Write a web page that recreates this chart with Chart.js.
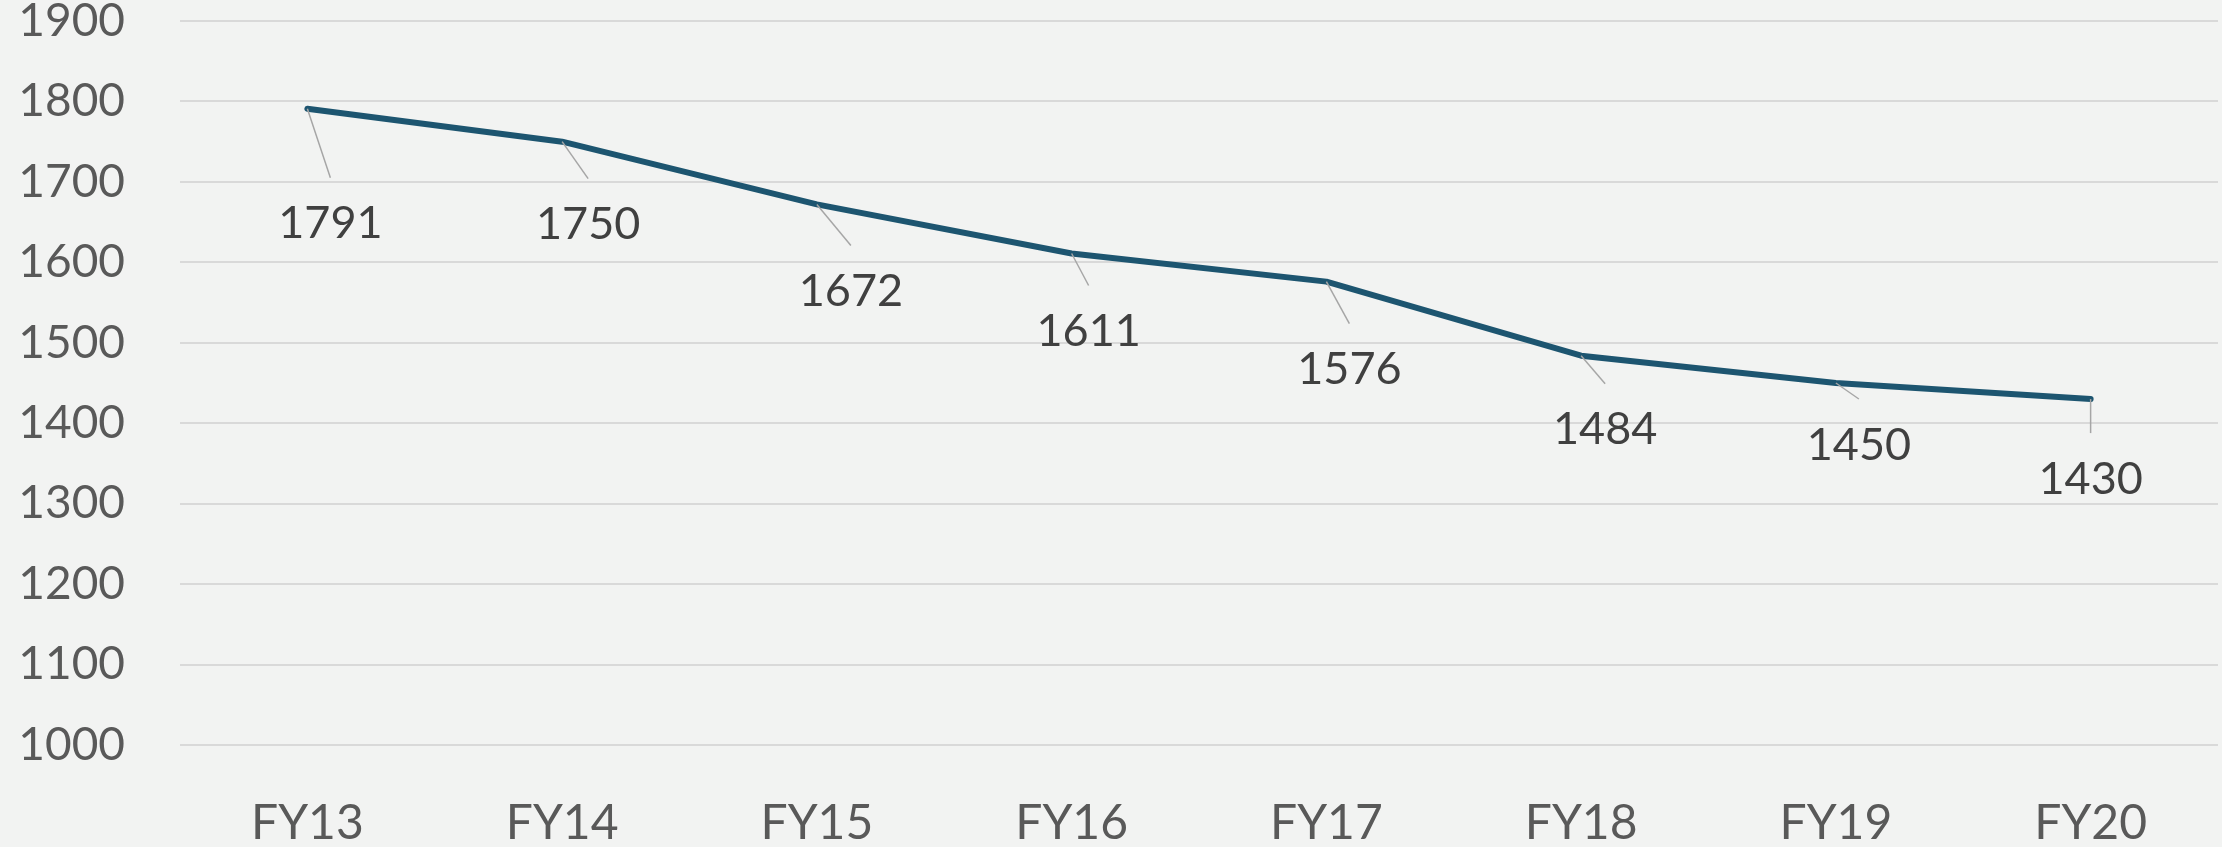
<!DOCTYPE html>
<html lang="en">
<head>
    <meta charset="UTF-8">
    <title>FY13 - FY20 Trend</title>
    <script src="https://cdn.jsdelivr.net/npm/chart.js"></script>
    <style>
        body {
            margin: 0;
            padding: 0;
            background-color: #f2f3f2; /* Page background */
        }
        .chart-container {
            width: 2222px;
            height: 847px;
        }
    </style>
</head>
<body>
    <div class="chart-container">
        <canvas id="trendChart"></canvas>
    </div>
    <script>
        // Chart data
        const years = ['FY13', 'FY14', 'FY15', 'FY16', 'FY17', 'FY18', 'FY19', 'FY20'];
        const values = [1791, 1750, 1672, 1611, 1576, 1484, 1450, 1430];
        const yTicks = [1000, 1100, 1200, 1300, 1400, 1500, 1600, 1700, 1800, 1900];

        // Pixel offsets of each data label from its point (label centre)
        const labelOffsets = [[23, 115], [26, 83], [34, 87], [17, 78], [23, 88], [24, 74], [23, 62], [0, 80]];

        const fontFamily = 'Lato, "Open Sans", sans-serif';

        // Paint the background
        const backgroundPlugin = {
            id: 'background',
            beforeDraw(chart) {
                const ctx = chart.ctx;
                ctx.save();
                ctx.fillStyle = '#f2f3f2';
                ctx.fillRect(0, 0, chart.width, chart.height);
                ctx.restore();
            }
        };

        // Data labels with leader lines
        const leaderLabelPlugin = {
            id: 'leaderLabels',
            afterDatasetsDraw(chart) {
                const ctx = chart.ctx;
                const meta = chart.getDatasetMeta(0);
                ctx.save();
                meta.data.forEach((pt, i) => {
                    const [dx, dy] = labelOffsets[i];
                    const lx = pt.x + dx;
                    const ly = pt.y + dy;
                    // leader line
                    ctx.strokeStyle = '#a6a6a6';
                    ctx.lineWidth = 1.5;
                    ctx.beginPath();
                    ctx.moveTo(pt.x, pt.y);
                    ctx.lineTo(lx, ly - 46);
                    ctx.stroke();
                    // label text
                    ctx.fillStyle = '#404040';
                    ctx.font = '45px ' + fontFamily;
                    ctx.textAlign = 'center';
                    ctx.textBaseline = 'middle';
                    ctx.fillText(String(values[i]), lx, ly);
                });
                ctx.restore();
            }
        };

        const trendChart = new Chart(document.getElementById('trendChart').getContext('2d'), {
            type: 'line',
            data: {
                labels: years,
                datasets: [{
                    data: values,
                    borderColor: '#1d5570', // Dark teal line
                    borderWidth: 6,
                    borderCapStyle: 'round',
                    borderJoinStyle: 'round',
                    pointRadius: 0,
                    fill: false,
                    tension: 0
                }]
            },
            options: {
                responsive: true,
                maintainAspectRatio: false,
                animation: false,
                layout: {
                    padding: { top: 21, right: 4, left: 0, bottom: 0 }
                },
                plugins: {
                    legend: { display: false },
                    tooltip: { enabled: false }
                },
                scales: {
                    x: {
                        offset: true,
                        grid: { display: false },
                        border: { display: false },
                        ticks: {
                            color: '#595959',
                            font: { family: fontFamily, size: 48 },
                            padding: 42
                        },
                        afterFit(scale) {
                            scale.height = 102;
                        }
                    },
                    y: {
                        min: 1000,
                        max: 1900,
                        afterBuildTicks(scale) {
                            scale.ticks = yTicks.map(v => ({ value: v }));
                        },
                        grid: {
                            color: '#d9d9d9',
                            lineWidth: 2,
                            drawTicks: false
                        },
                        border: { display: false },
                        ticks: {
                            color: '#595959',
                            font: { family: fontFamily, size: 46 },
                            padding: 55,
                            callback: v => String(v) // plain numbers, no thousands separator
                        },
                        afterFit(scale) {
                            scale.width = 180;
                            scale.paddingTop = 0;
                            scale.paddingBottom = 0;
                        }
                    }
                }
            },
            plugins: [backgroundPlugin, leaderLabelPlugin]
        });
    </script>
</body>
</html>
